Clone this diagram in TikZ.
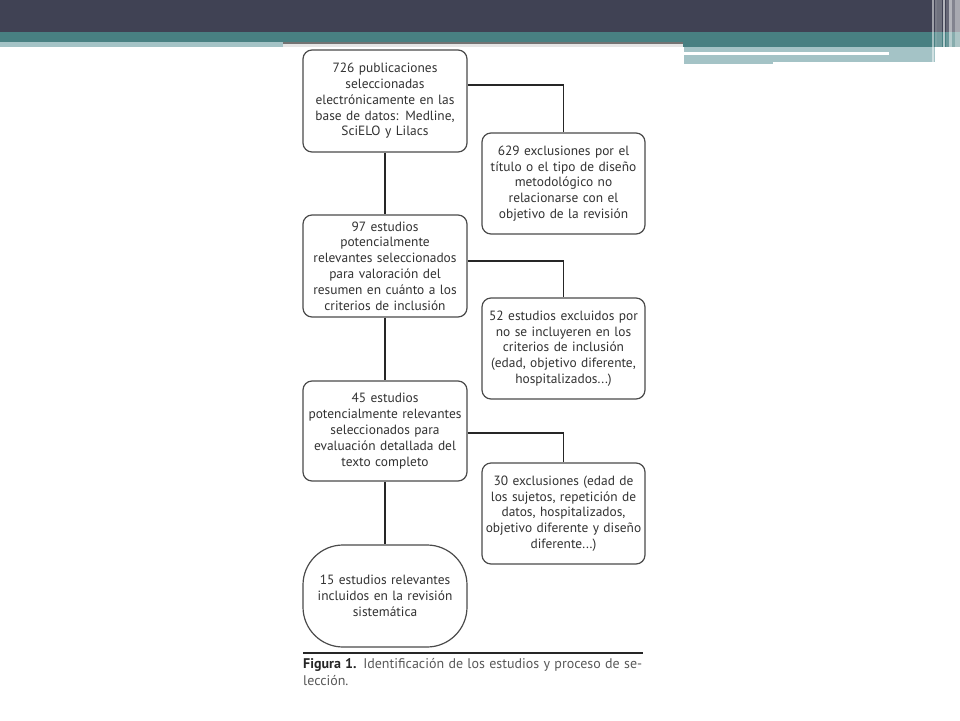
\documentclass[tikz,border=0pt]{standalone}
\usepackage{fontspec}
\setmainfont{PT Sans}
\definecolor{hdark}{RGB}{64,66,84}
\definecolor{hteal}{RGB}{72,128,130}
\definecolor{hlight}{RGB}{164,195,198}
\definecolor{boxline}{RGB}{75,75,75}
\definecolor{txt}{RGB}{50,50,50}
\begin{document}
\begin{tikzpicture}[x=1pt,y=-1pt,
  box/.style={draw=boxline, line width=1.2pt, rounded corners=9pt,
    minimum width=164pt, minimum height=102pt, text width=162pt,
    align=center, inner sep=0pt, text=txt,
    font=\fontsize{13.4pt}{15.8pt}\selectfont},
  conn/.style={draw=black!85, line width=1.3pt},
  stripe/.style={fill=white, draw=none}]
\useasboundingbox (0,0) rectangle (960,720);
\fill[white] (0,0) rectangle (960,720);
% header
\fill[hdark] (0,0) rectangle (960,32);
\fill[hteal] (0,32) rectangle (960,42);
\fill[hteal] (683,42) rectangle (960,47);
\fill[hlight] (0,42) rectangle (283,47);
\fill[black!10] (283,42) rectangle (683,47);
\fill[black!55] (283,42) rectangle (683,43.5);
\fill[hlight] (684,47) rectangle (935,62);
\fill[hlight] (684,62) rectangle (773,64);
\fill[white] (684,52) rectangle (889,55);
% right stripes
\fill[stripe, opacity=0.5] (931.5,0) rectangle (933.5,63);
\fill[stripe, opacity=0.3] (935,0) rectangle (937,63);
\fill[stripe, opacity=0.25] (937,0) rectangle (941.5,63);
\fill[stripe, opacity=0.6] (943,0) rectangle (945,64);
\fill[stripe, opacity=0.2] (946,0) rectangle (948.5,64);
\fill[stripe, opacity=0.6] (949,0) rectangle (951.5,66);
\fill[stripe, opacity=0.35] (952,0) rectangle (955,68);
\fill[stripe, opacity=0.55] (955,0) rectangle (960,72);
% boxes
\node[box] (b1) at (385,101) {726 publicaciones\\seleccionadas\\electrónicamente en las\\base de datos: Medline,\\SciELO y Lilacs};
\node[box, minimum width=163pt, minimum height=101pt] (b2) at (563.5,183.5) {629 exclusiones por el\\título o el tipo de diseño\\metodológico no\\relacionarse con el\\objetivo de la revisión};
\node[box] (b3) at (385,266) {97 estudios\\potencialmente\\relevantes seleccionados\\para valoración del\\resumen en cuánto a los\\criterios de inclusión};
\node[box, minimum width=163pt, minimum height=101pt] (b4) at (563.5,348.5) {52 estudios excluidos por\\no se incluyeren en los\\criterios de inclusión\\(edad, objetivo diferente,\\hospitalizados...)};
\node[box, minimum height=100pt] (b5) at (385,431) {45 estudios\\potencialmente relevantes\\seleccionados para\\evaluación detallada del\\texto completo};
\node[box, minimum width=163pt, minimum height=101pt] (b6) at (563.5,513.5) {30 exclusiones (edad de\\los sujetos, repetición de\\datos, hospitalizados,\\objetivo diferente y diseño\\diferente...)};
\node[box, rounded corners=40pt] (b7) at (385,596) {15 estudios relevantes\\incluidos en la revisión\\sistemática};
% connectors
\draw[conn] (b1.south) -- (b3.north);
\draw[conn] (b3.south) -- (b5.north);
\draw[conn] (b5.south) -- (b7.north);
\draw[conn] ([yshift=16pt]b1.east) -| (b2.north);
\draw[conn] ([yshift=5pt]b3.east) -| (b4.north);
\draw[conn] ([yshift=-2pt]b5.east) -| (b6.north);
% caption
\draw[line width=2.2pt, black!85] (303,653) -- (643,653);
\node[anchor=base west, inner sep=0pt, text=black!65, font=\fontsize{14pt}{16pt}\selectfont] (cap1) at (303,668)
  {\makebox[339pt][s]{{\bfseries\color{black!85}Figura 1.} Identificación de los estudios y proceso de se-}};
\node[anchor=base west, inner sep=0pt, text=black!65, font=\fontsize{14pt}{16pt}\selectfont] (cap2) at (303,685) {lección.};
\end{tikzpicture}
\end{document}
